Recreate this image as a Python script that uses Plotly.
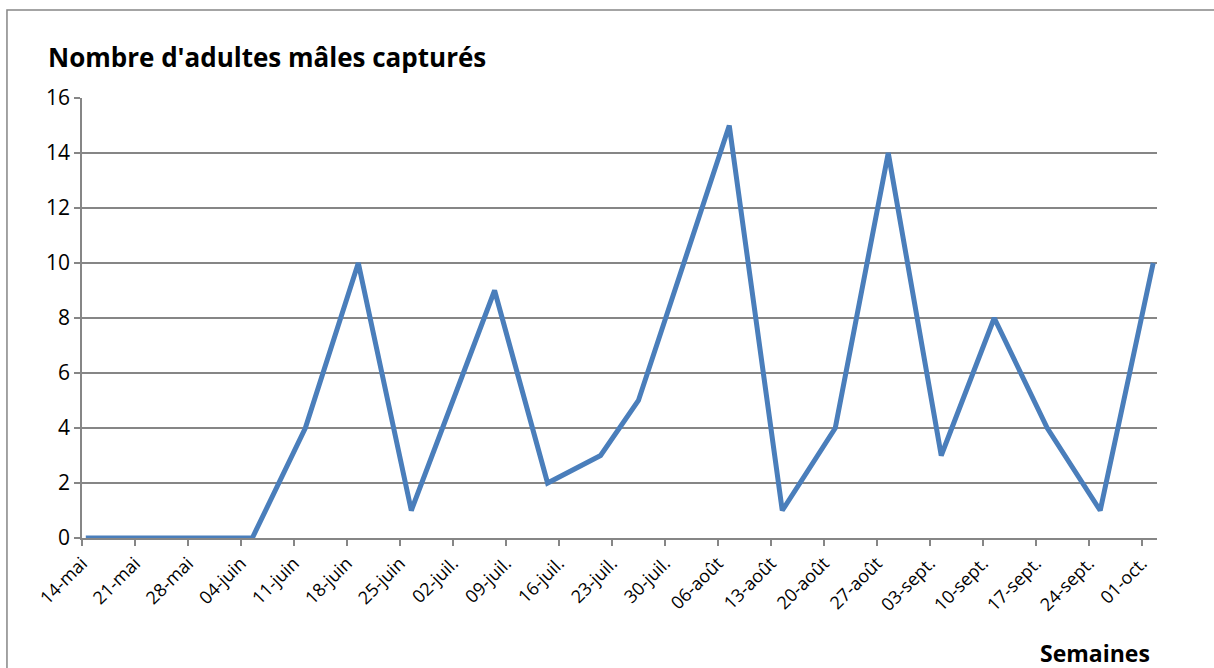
import pandas as pd
import plotly.graph_objects as go

# ---- data ----
dates = ["2012-05-14", "2012-05-21", "2012-05-28", "2012-06-05", "2012-06-12",
         "2012-06-19", "2012-06-26", "2012-07-07", "2012-07-14", "2012-07-21",
         "2012-07-26", "2012-08-07", "2012-08-14", "2012-08-21", "2012-08-28",
         "2012-09-04", "2012-09-11", "2012-09-18", "2012-09-25", "2012-10-02"]
males = [0, 0, 0, 0, 4, 10, 1, 9, 2, 3, 5, 15, 1, 4, 14, 3, 8, 4, 1, 10]

tick_dates = ["2012-05-14", "2012-05-21", "2012-05-28", "2012-06-04", "2012-06-11",
              "2012-06-18", "2012-06-25", "2012-07-02", "2012-07-09", "2012-07-16",
              "2012-07-23", "2012-07-30", "2012-08-06", "2012-08-13", "2012-08-20",
              "2012-08-27", "2012-09-03", "2012-09-10", "2012-09-17", "2012-09-24",
              "2012-10-01"]
tick_labels = ["14-mai", "21-mai", "28-mai", "04-juin", "11-juin", "18-juin", "25-juin",
               "02-juil.", "09-juil.", "16-juil.", "23-juil.", "30-juil.", "06-août",
               "13-août", "20-août", "27-août", "03-sept.", "10-sept.", "17-sept.",
               "24-sept.", "01-oct."]
y_ticks = [0, 2, 4, 6, 8, 10, 12, 14, 16]

# ---- figure ----
x = pd.to_datetime(dates)
half = pd.Timedelta(hours=12)
tickvals = pd.to_datetime(tick_dates) - half

FONT = "Open Sans"
GRID = "#868686"

fig = go.Figure()
fig.add_trace(go.Scatter(
    x=x, y=males, mode="lines",
    line=dict(color="#4a7ebb", width=5),
    showlegend=False, hoverinfo="x+y",
))

fig.update_xaxes(
    type="date",
    range=[x.min() - half, x.max() + half],
    tickmode="array", tickvals=tickvals, ticktext=tick_labels,
    tickangle=-45, ticks="outside", ticklen=6, tickcolor=GRID, tickwidth=1.5,
    showline=True, linecolor=GRID, linewidth=1.5,
    showgrid=False, zeroline=False,
    tickfont=dict(family=FONT, size=18, color="black"),
)
fig.update_yaxes(
    range=[0, 16], tickmode="array", tickvals=y_ticks,
    ticks="outside", ticklen=6, tickcolor=GRID, tickwidth=1.5,
    showline=True, linecolor=GRID, linewidth=1.5,
    showgrid=True, gridcolor=GRID, gridwidth=1.5, zeroline=False,
    tickfont=dict(family=FONT, size=21, color="black"),
)

fig.update_layout(
    width=1214, height=668,
    margin=dict(l=82, r=57, t=98, b=130),
    paper_bgcolor="white", plot_bgcolor="white",
    font=dict(family=FONT, color="black"),
    annotations=[
        dict(text="<b>Nombre d'adultes mâles capturés</b>", xref="paper", yref="paper",
             x=-0.0335, y=1.0935, xanchor="left", yanchor="middle", showarrow=False,
             font=dict(family=FONT, size=26, color="black")),
        dict(text="<b>Semaines</b>", xref="paper", yref="paper",
             x=0.9954, y=-0.2614, xanchor="right", yanchor="middle", showarrow=False,
             font=dict(family=FONT, size=23, color="black")),
    ],
    shapes=[
        dict(type="rect", xref="paper", yref="paper",
             x0=-0.0698, y0=-0.6, x1=1.2, y1=1.2,
             line=dict(color="#868686", width=1.5), fillcolor="rgba(0,0,0,0)",
             layer="below"),
    ],
)

fig.write_html(
    "out.html",
    config={"displayModeBar": False},
    post_script="document.body.style.margin='0';document.body.style.overflow='hidden';",
)
